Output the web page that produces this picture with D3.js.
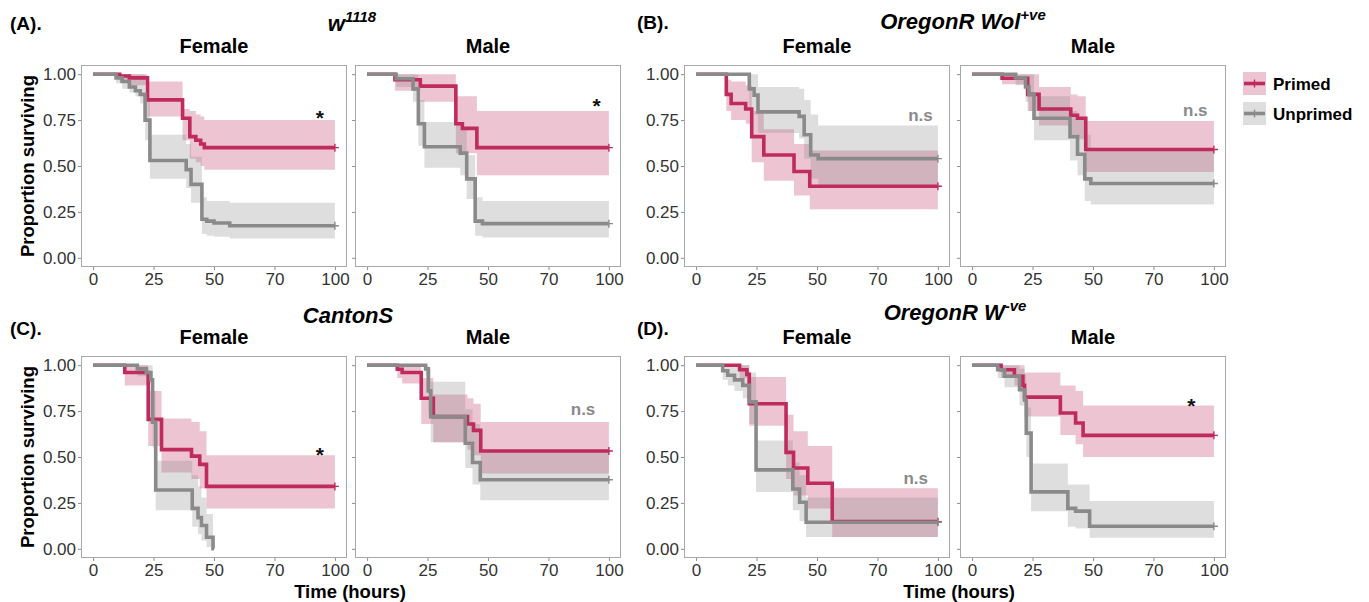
<!DOCTYPE html>
<html>
<head>
<meta charset="utf-8">
<script src="https://cdn.jsdelivr.net/npm/d3@7"></script>
<style>
  html, body { margin: 0; padding: 0; background: #ffffff; }
  svg { display: block; font-family: "Liberation Sans", Arial, Helvetica, sans-serif; }
</style>
</head>
<body>
<svg id="chart" width="1369" height="602"></svg>
<script>
// ---------------- DATA ----------------
const groupTags  = ["(A).", "(B).", "(C).", "(D)."];
const groupNames = ["w", "OregonR Wol", "CantonS", "OregonR W"];
const groupSups  = ["1118", "+ve", "", "-ve"];
const sexes = ["Female", "Male"];
const seriesNames = ["Primed", "Unprimed"];

const xTicks = [0, 25, 50, 75, 100];
const xTickLabels = ["0", "25", "50", "70", "100"];
const yTicks = [0, 0.25, 0.5, 0.75, 1];
const yTickLabels = ["0.00", "0.25", "0.50", "0.75", "1.00"];

// Kaplan-Meier steps: [time (h), survival, lower CI, upper CI]; last row = end of follow-up
const w1118_F_primed = [[0,1,1,1],[11,0.99,0.96,1],[15,0.98,0.94,1],[22.5,0.86,0.77,0.96],[37,0.76,0.64,0.81],[40,0.66,0.54,0.80],[42.5,0.64,0.52,0.78],[44.5,0.62,0.50,0.77],[46,0.60,0.48,0.75],[100,0.60,0.48,0.75]];
const w1118_F_unprimed = [[0,1,1,1],[9.5,0.98,0.95,1],[12,0.96,0.92,1],[15,0.93,0.90,1],[17.5,0.91,0.88,1],[19.5,0.89,0.84,1],[21.5,0.75,0.64,0.87],[23.5,0.53,0.43,0.67],[38.5,0.48,0.38,0.62],[40.5,0.40,0.30,0.55],[45,0.21,0.13,0.33],[47,0.20,0.12,0.31],[50,0.19,0.115,0.31],[56.5,0.175,0.105,0.30],[100,0.175,0.105,0.30]];
const w1118_M_primed = [[0,1,1,1],[11.5,0.97,0.91,1],[22,0.935,0.85,1],[36.7,0.73,0.57,0.88],[39.4,0.705,0.57,0.88],[45.4,0.60,0.45,0.80],[100,0.60,0.45,0.80]];
const w1118_M_unprimed = [[0,1,1,1],[12,0.975,0.93,1],[19,0.92,0.85,1],[21.2,0.73,0.61,0.86],[23.7,0.605,0.49,0.74],[38.5,0.57,0.45,0.70],[41.2,0.43,0.32,0.56],[44.7,0.20,0.12,0.33],[47.7,0.186,0.11,0.31],[100,0.186,0.11,0.31]];

const oreW_F_primed = [[0,1,1,1],[12.5,0.89,0.80,0.97],[14.5,0.84,0.75,0.96],[20.5,0.81,0.73,0.94],[23,0.66,0.52,0.80],[28,0.56,0.42,0.70],[40.5,0.47,0.34,0.62],[47,0.39,0.265,0.585],[100,0.39,0.265,0.585]];
const oreW_F_unprimed = [[0,1,1,1],[22,0.92,0.80,1],[24,0.886,0.78,1],[25.6,0.795,0.68,0.93],[42.6,0.77,0.65,0.92],[44.7,0.67,0.54,0.86],[47.4,0.56,0.43,0.78],[50.5,0.54,0.39,0.72],[100,0.54,0.39,0.72]];
const oreW_M_primed = [[0,1,1,1],[12.4,0.978,0.945,1],[23,0.89,0.80,1],[27.7,0.81,0.72,0.93],[40.8,0.776,0.67,0.89],[43.6,0.76,0.645,0.88],[47,0.59,0.467,0.745],[100,0.59,0.467,0.745]];
const oreW_M_unprimed = [[0,1,1,1],[18,0.98,0.94,1],[22.1,0.93,0.85,1],[23.5,0.89,0.80,1],[25.6,0.76,0.64,0.88],[40.5,0.66,0.53,0.80],[43.6,0.564,0.45,0.75],[46.6,0.43,0.31,0.67],[49.1,0.405,0.29,0.585],[100,0.405,0.29,0.585]];

const canS_F_primed = [[0,1,1,1],[13.1,0.96,0.89,1],[22.8,0.705,0.56,0.86],[28.3,0.54,0.415,0.71],[40.7,0.505,0.38,0.69],[44.1,0.46,0.33,0.64],[46.9,0.34,0.22,0.51],[100,0.34,0.22,0.51]];
const canS_F_unprimed = [[0,1,1,1],[18.3,0.98,0.94,1],[22,0.96,0.90,1],[23.9,0.92,0.84,1],[24.6,0.69,0.55,0.86],[25.9,0.32,0.21,0.48],[41,0.22,0.12,0.40],[43.4,0.17,0.08,0.34],[44.8,0.127,0.045,0.28],[46.9,0.063,0.01,0.19],[49.6,0,0,0],[50,0,0,0]];
const canS_M_primed = [[0,1,1,1],[12.5,0.978,0.93,1],[14.5,0.96,0.90,1],[22.4,0.82,0.68,0.93],[27.4,0.72,0.58,0.84],[41.5,0.68,0.54,0.82],[44,0.645,0.51,0.79],[47,0.533,0.41,0.69],[100,0.533,0.41,0.69]];
const canS_M_unprimed = [[0,1,1,1],[24.2,0.98,0.94,1],[25.3,0.86,0.74,0.98],[26.3,0.72,0.58,0.91],[40.6,0.575,0.44,0.76],[43.6,0.47,0.35,0.68],[46.8,0.376,0.264,0.54],[100,0.376,0.264,0.54]];

const oreN_F_primed = [[0,1,1,1],[18,0.975,0.93,1],[21,0.95,0.90,1],[22,0.79,0.67,0.935],[37.2,0.525,0.38,0.73],[40.3,0.44,0.29,0.64],[46.2,0.357,0.22,0.56],[56.3,0.148,0.065,0.33],[100,0.148,0.065,0.33]];
const oreN_F_unprimed = [[0,1,1,1],[11,0.97,0.92,1],[13.1,0.945,0.89,1],[15.9,0.92,0.86,1],[19.3,0.89,0.82,1],[22,0.80,0.68,0.96],[24.8,0.43,0.31,0.59],[40,0.326,0.21,0.47],[42.8,0.254,0.15,0.40],[45.5,0.145,0.065,0.28],[100,0.145,0.065,0.28]];
const oreN_M_primed = [[0,1,1,1],[12,0.975,0.93,1],[17.5,0.94,0.89,1],[21,0.89,0.80,1],[21.7,0.826,0.72,0.96],[36.5,0.74,0.62,0.89],[42.8,0.685,0.57,0.86],[45.9,0.618,0.50,0.78],[100,0.618,0.50,0.78]];
const oreN_M_unprimed = [[0,1,1,1],[10.6,0.975,0.93,1],[13.4,0.94,0.88,1],[19.6,0.866,0.78,0.98],[21.7,0.81,0.70,0.95],[22.4,0.63,0.50,0.77],[24.4,0.31,0.205,0.465],[39.6,0.22,0.12,0.35],[42.8,0.205,0.11,0.35],[48.6,0.123,0.06,0.26],[100,0.123,0.06,0.26]];

// significance labels per panel (A-F, A-M, B-F, B-M, C-F, C-M, D-F, D-M)
const annotTexts = ["*", "*", "n.s", "n.s", "*", "n.s", "n.s", "*"];
const annotTimes = [93.8, 94.9, 92.8, 92.3, 93.8, 89.3, 90.8, 90.7];
const annotSurv  = [0.787, 0.85, 0.77, 0.795, 0.537, 0.755, 0.377, 0.80];

// ---------------- LAYOUT / STYLE ----------------
const colX = [81, 355, 684, 960];
const rowY = [65, 356];
const panelW = 266, panelH = 202;
const colors = { Primed: "#bf2b5d", Unprimed: "#8a8a8a" };
const fillOpacity = 0.28;

const svg = d3.select("#chart");

const panelData = [
  [w1118_F_primed, w1118_F_unprimed], [w1118_M_primed, w1118_M_unprimed],
  [oreW_F_primed, oreW_F_unprimed],   [oreW_M_primed, oreW_M_unprimed],
  [canS_F_primed, canS_F_unprimed],   [canS_M_primed, canS_M_unprimed],
  [oreN_F_primed, oreN_F_unprimed],   [oreN_M_primed, oreN_M_unprimed]
];

panelData.forEach((pd, i) => {
  const group = Math.floor(i / 2);          // 0..3
  const sexIdx = i % 2;
  const row = group < 2 ? 0 : 1;
  const col = (group % 2) * 2 + sexIdx;
  const x0 = colX[col], y0 = rowY[row];

  const x = d3.scaleLinear().domain([-5, 105]).range([x0, x0 + panelW]);
  const y = d3.scaleLinear().domain([-0.05, 1.05]).range([y0 + panelH, y0]);

  const g = svg.append("g");

  // panel frame
  g.append("rect").attr("x", x0 + 0.5).attr("y", y0 + 0.5)
    .attr("width", panelW - 1).attr("height", panelH - 1)
    .attr("fill", "#ffffff").attr("stroke", "#a8a8a8").attr("stroke-width", 1);

  // axes
  const xAxis = d3.axisBottom(x).tickValues(xTicks)
    .tickFormat((d, k) => xTickLabels[k]).tickSize(3).tickPadding(3);
  const gx = g.append("g").attr("transform", `translate(0,${y0 + panelH})`).call(xAxis);
  const yAxis = d3.axisLeft(y).tickValues(yTicks)
    .tickFormat((d, k) => sexIdx === 0 ? yTickLabels[k] : "").tickSize(3).tickPadding(2);
  const gy = g.append("g").attr("transform", `translate(${x0},0)`).call(yAxis);
  [gx, gy].forEach(a => {
    a.select(".domain").remove();
    a.selectAll(".tick line").attr("stroke", "#8c8c8c");
    a.selectAll(".tick text").attr("fill", "#333333")
      .style("font-size", "17px").style("font-family", "'Liberation Sans', Arial, sans-serif");
  });

  const area = d3.area().curve(d3.curveStepAfter)
    .x(d => x(d[0])).y0(d => y(d[2])).y1(d => y(d[3]));
  const line = d3.line().curve(d3.curveStepAfter)
    .x(d => x(d[0])).y(d => y(d[1]));

  // confidence bands
  pd.forEach((s, k) => {
    g.append("path").datum(s).attr("d", area)
      .attr("fill", colors[seriesNames[k]]).attr("fill-opacity", fillOpacity).attr("stroke", "none");
  });
  // survival curves
  pd.forEach((s, k) => {
    g.append("path").datum(s).attr("d", line)
      .attr("fill", "none").attr("stroke", colors[seriesNames[k]])
      .attr("stroke-width", 3.6).attr("stroke-linejoin", "miter");
    const last = s[s.length - 1];
    if (last[1] > 0) {
      const cx = x(last[0]), cy = y(last[1]);
      g.append("path").attr("d", `M${cx - 4},${cy}H${cx + 4}M${cx},${cy - 4}V${cy + 4}`)
        .attr("stroke", colors[seriesNames[k]]).attr("stroke-width", 1.4).attr("fill", "none");
    }
  });

  // significance annotation
  const t = annotTexts[i];
  const isStar = t === "*";
  g.append("text")
    .attr("x", x(annotTimes[i]))
    .attr("y", y(annotSurv[i]) + (isStar ? 11.5 : 4.5))
    .attr("text-anchor", "middle")
    .attr("font-weight", "bold")
    .attr("font-size", isStar ? 21 : 17)
    .attr("fill", isStar ? "#111111" : "#8a8a8a")
    .text(t);

  // sex title
  svg.append("text").attr("x", x0 + panelW / 2).attr("y", row === 0 ? 53 : 344)
    .attr("text-anchor", "middle").attr("font-weight", "bold").attr("font-size", 20)
    .attr("fill", "#000").text(sexes[sexIdx]);
});

// group tags and titles
const tagX = [10, 637, 10, 637];
const tagY = [30, 29, 335, 335];
const titleX = [352, 963, 348, 955];
const titleY = [31, 29, 323, 320];
groupTags.forEach((tag, gi) => {
  svg.append("text").attr("x", tagX[gi]).attr("y", tagY[gi])
    .attr("font-weight", "bold").attr("font-size", 19).attr("fill", "#000").text(tag);
  const tt = svg.append("text").attr("x", titleX[gi]).attr("y", titleY[gi])
    .attr("text-anchor", "middle").attr("font-weight", "bold").attr("font-style", "italic")
    .attr("font-size", 22).attr("fill", "#000");
  tt.append("tspan").text(groupNames[gi]);
  if (groupSups[gi]) {
    tt.append("tspan").attr("dy", -9).attr("font-size", 15).text(groupSups[gi]);
  }
});

// axis titles
[166, 457].forEach(cy => {
  svg.append("text").attr("transform", `translate(28,${cy}) rotate(-90)`)
    .attr("text-anchor", "middle").attr("dy", "0.35em")
    .attr("font-weight", "bold").attr("font-size", 18.5).attr("fill", "#000")
    .text("Proportion surviving");
});
[350, 959].forEach(cx => {
  svg.append("text").attr("x", cx).attr("y", 598).attr("text-anchor", "middle")
    .attr("font-weight", "bold").attr("font-size", 18.5).attr("fill", "#000")
    .text("Time (hours)");
});

// legend
const legY = [72, 102];
seriesNames.forEach((name, k) => {
  const lg = svg.append("g").attr("transform", `translate(1243,${legY[k]})`);
  lg.append("rect").attr("width", 23).attr("height", 23)
    .attr("fill", colors[name]).attr("fill-opacity", fillOpacity);
  lg.append("line").attr("x1", 1).attr("x2", 22).attr("y1", 11.5).attr("y2", 11.5)
    .attr("stroke", colors[name]).attr("stroke-width", 3.6);
  lg.append("line").attr("x1", 11.5).attr("x2", 11.5).attr("y1", 7.5).attr("y2", 15.5)
    .attr("stroke", colors[name]).attr("stroke-width", 1.4);
  lg.append("text").attr("x", 30).attr("y", 17.5)
    .attr("font-weight", "bold").attr("font-size", 17).attr("fill", "#000").text(name);
});
</script>
</body>
</html>
